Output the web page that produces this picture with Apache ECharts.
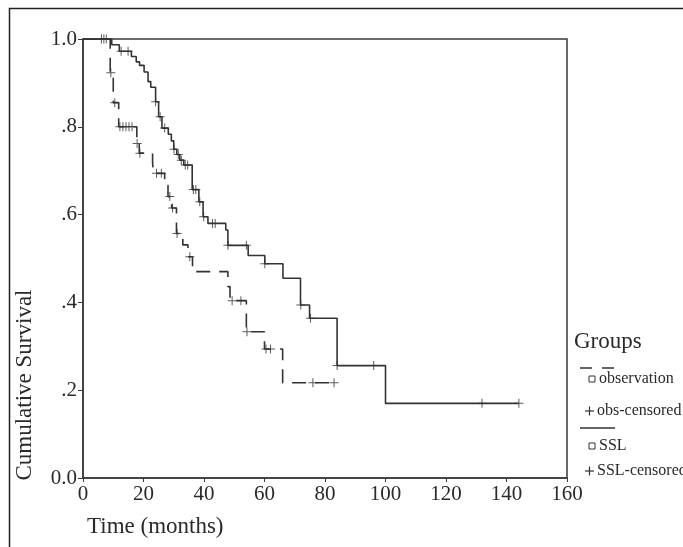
<!DOCTYPE html>
<html>
<head>
<meta charset="utf-8">
<script src="https://cdn.jsdelivr.net/npm/echarts@6/dist/echarts.min.js"></script>
<style>html,body{margin:0;padding:0;background:#fff;}#c{width:683px;height:547px;}</style>
</head>
<body>
<div id="c"></div>
<script>
// ---- data ----
var xTickLabels = ['0','20','40','60','80','100','120','140','160'];
var yTickLabels = ['0.0','.2','.4','.6','.8','1.0'];

// observation group: Kaplan-Meier step points (time, survival after step)
var obsTimes = [0, 9, 10, 11.8, 17.8, 18.6, 23, 23.3, 27, 28.1, 29.3, 30.9, 33, 34.7, 36.2, 47.9, 48.6, 54, 60, 66, 83];
var obsSurv  = [1, 0.923, 0.855, 0.80, 0.762, 0.74, 0.717, 0.694, 0.667, 0.641, 0.615, 0.557, 0.531, 0.504, 0.47, 0.436, 0.404, 0.333, 0.294, 0.217, 0.217];
// observation censored
var obsCensTimes = [9.2, 10.5, 12.2, 13.2, 14.2, 15.2, 16.2, 17.9, 18.8, 24.3, 25.9, 28.7, 29.6, 31.1, 35.3, 49.3, 52.2, 54.2, 60.5, 62, 76, 83];
var obsCensSurv  = [0.923, 0.855, 0.80, 0.80, 0.80, 0.80, 0.80, 0.762, 0.74, 0.694, 0.694, 0.641, 0.615, 0.557, 0.504, 0.404, 0.404, 0.333, 0.294, 0.294, 0.217, 0.217];

// SSL group
var sslTimes = [0, 9.5, 12, 16, 17.6, 18.7, 20.2, 21.5, 22.4, 24, 25, 26.1, 28.2, 29.2, 30, 31, 32, 33.3, 36.1, 38.3, 39.7, 41.3, 47.2, 47.9, 54.6, 60.1, 66.1, 71.9, 74.9, 84, 100, 144];
var sslSurv  = [1, 0.987, 0.972, 0.96, 0.948, 0.94, 0.925, 0.903, 0.89, 0.857, 0.823, 0.797, 0.783, 0.768, 0.749, 0.737, 0.724, 0.713, 0.657, 0.629, 0.595, 0.58, 0.565, 0.53, 0.507, 0.488, 0.455, 0.394, 0.364, 0.256, 0.17, 0.17];
var sslCensTimes = [6.1, 6.9, 7.7, 12.6, 14.9, 24, 25.5, 27, 30.1, 31.5, 32.5, 33.8, 34.6, 36.5, 37.3, 38.6, 39.9, 42.8, 43.7, 47.9, 54, 60.1, 72, 75.2, 84, 96.1, 131.9, 144.1];
var sslCensSurv  = [1, 1, 1, 0.972, 0.972, 0.857, 0.823, 0.797, 0.749, 0.737, 0.724, 0.713, 0.713, 0.657, 0.657, 0.629, 0.595, 0.58, 0.58, 0.53, 0.53, 0.488, 0.394, 0.364, 0.256, 0.256, 0.17, 0.17];

function zip(a, b) { return a.map(function (v, i) { return [v, b[i]]; }); }

var FONT = '"Liberation Serif", "Times New Roman", serif';
var INK = '#2a2a2a';
var plusPath = 'path://M4,0h1v9h-1z M0,4h9v1h-9z';

var chart = echarts.init(document.getElementById('c'), null, {renderer: 'canvas'});
var option = {
  animation: false,
  backgroundColor: '#fff',
  grid: {left: 83, top: 39, width: 484, height: 439, show: true, borderColor: '#3a3a3a', borderWidth: 1.5, backgroundColor: 'transparent'},
  xAxis: {
    type: 'value', min: 0, max: 160, interval: 20,
    axisLine: {show: true, lineStyle: {color: '#3a3a3a', width: 1.5}},
    axisTick: {show: true, length: 4, lineStyle: {color: '#3a3a3a', width: 1}},
    splitLine: {show: false},
    axisLabel: {show: true, showMinLabel: true, showMaxLabel: true, margin: 6, color: INK, fontFamily: FONT, fontSize: 21,
      formatter: function (v) { return xTickLabels[Math.round(v / 20)]; }}
  },
  yAxis: {
    type: 'value', min: 0, max: 1, interval: 0.2,
    axisLine: {show: true, lineStyle: {color: '#3a3a3a', width: 1.5}},
    axisTick: {show: true, length: 5, lineStyle: {color: '#3a3a3a', width: 1}},
    splitLine: {show: false},
    axisLabel: {show: true, showMinLabel: true, showMaxLabel: true, margin: 6, color: INK, fontFamily: FONT, fontSize: 21,
      formatter: function (v) { return yTickLabels[Math.round(v / 0.2)]; }}
  },
  series: [
    {name: 'observation', type: 'line', step: 'end', data: zip(obsTimes, obsSurv), showSymbol: false, symbol: 'none',
      lineStyle: {color: '#333', width: 1.6, type: [14, 9]}, z: 3},
    {name: 'SSL', type: 'line', step: 'end', data: zip(sslTimes, sslSurv), showSymbol: false, symbol: 'none',
      lineStyle: {color: '#333', width: 1.6, type: 'solid'}, z: 3},
    {name: 'obs-censored', type: 'scatter', data: zip(obsCensTimes, obsCensSurv), symbol: plusPath, symbolSize: 9,
      itemStyle: {color: '#333'}, z: 4},
    {name: 'SSL-censored', type: 'scatter', data: zip(sslCensTimes, sslCensSurv), symbol: plusPath, symbolSize: 9,
      itemStyle: {color: '#333'}, z: 4}
  ],
  graphic: [
    {type: 'rect', shape: {x: 9.5, y: 8.5, width: 720, height: 600}, style: {fill: 'none', stroke: '#222', lineWidth: 1.5}, silent: true},
    {type: 'text', x: 25, y: 385, rotation: Math.PI / 2, style: {text: 'Cumulative Survival', font: '23px ' + FONT, fill: INK, align: 'center', verticalAlign: 'middle'}},
    {type: 'text', x: 87, y: 527, style: {text: 'Time (months)', font: '23px ' + FONT, fill: INK, align: 'left', verticalAlign: 'middle'}},
    {type: 'text', x: 574, y: 342, style: {text: 'Groups', font: '23px ' + FONT, fill: INK, align: 'left', verticalAlign: 'middle'}},
    {type: 'line', shape: {x1: 580, y1: 368, x2: 615, y2: 368}, style: {stroke: '#333', lineWidth: 1.5, lineDash: [12, 10]}},
    {type: 'rect', shape: {x: 589, y: 376, width: 6, height: 6}, style: {fill: '#fff', stroke: '#333', lineWidth: 1}},
    {type: 'text', x: 599, y: 379, style: {text: 'observation', font: '16px ' + FONT, fill: INK, align: 'left', verticalAlign: 'middle'}},
    {type: 'line', shape: {x1: 585, y1: 411, x2: 594, y2: 411}, style: {stroke: '#333', lineWidth: 1.2}},
    {type: 'line', shape: {x1: 589.5, y1: 406.5, x2: 589.5, y2: 415.5}, style: {stroke: '#333', lineWidth: 1.2}},
    {type: 'text', x: 597, y: 411, style: {text: 'obs-censored', font: '16px ' + FONT, fill: INK, align: 'left', verticalAlign: 'middle'}},
    {type: 'line', shape: {x1: 580, y1: 428, x2: 615, y2: 428}, style: {stroke: '#333', lineWidth: 1.5}},
    {type: 'rect', shape: {x: 589, y: 443, width: 6, height: 6}, style: {fill: '#fff', stroke: '#333', lineWidth: 1}},
    {type: 'text', x: 599, y: 446, style: {text: 'SSL', font: '16px ' + FONT, fill: INK, align: 'left', verticalAlign: 'middle'}},
    {type: 'line', shape: {x1: 585, y1: 471, x2: 594, y2: 471}, style: {stroke: '#333', lineWidth: 1.2}},
    {type: 'line', shape: {x1: 589.5, y1: 466.5, x2: 589.5, y2: 475.5}, style: {stroke: '#333', lineWidth: 1.2}},
    {type: 'text', x: 597, y: 471, style: {text: 'SSL-censored', font: '16px ' + FONT, fill: INK, align: 'left', verticalAlign: 'middle'}}
  ]
};
chart.setOption(option);
</script>
</body>
</html>
